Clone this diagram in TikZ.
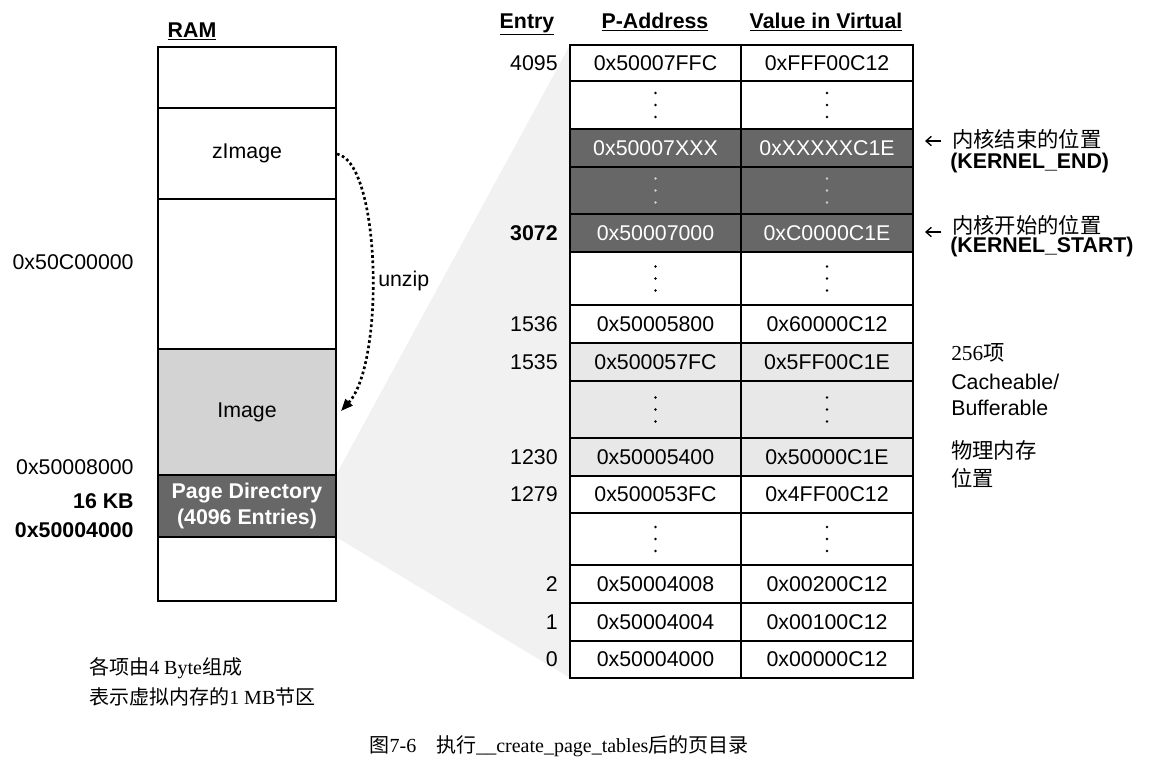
\documentclass[tikz,border=0pt]{standalone}
\usepackage{fontspec}
\setmainfont{Liberation Sans}
\newfontfamily\cjk{Noto Sans CJK SC}
\newfontfamily\tnr{Liberation Serif}
\usetikzlibrary{arrows.meta,backgrounds}
\definecolor{darkcell}{HTML}{676767}
\definecolor{lightcell}{HTML}{E8E8E8}
\definecolor{imgfill}{HTML}{D3D3D3}
\definecolor{fan}{HTML}{F1F1F1}

\begin{document}
\begin{tikzpicture}
  [x=0.75pt,y=-0.75pt,
   ram/.style={draw,line width=1pt},
   cell/.style={draw,line width=1.1pt},
   addr/.style={anchor=east},
   head/.style={anchor=base,font=\bfseries},
   note/.style={anchor=west,inner sep=0pt}]
  \fontsize{16}{19.5}\selectfont
  \useasboundingbox (0,0) rectangle (1151,776);

  % RAM
  \node[head] (ramtitle) at (192,37) {\underline{RAM}};
  \fill[imgfill] (158,349) rectangle (336,475);
  \fill[darkcell] (158,475) rectangle (336,537);
  \draw[ram] (158,47) rectangle (336,601);
  \foreach \yy in {108,199,349,475,537}
    \draw[ram] (158,\yy) -- (336,\yy);
  \node (zimg) at (247,153.5) {zImage};
  \node (img) at (247,412) {Image};
  \node[text=white,font=\bfseries,align=center] (pd) at (247,506) {Page Directory\\(4096 Entries)};
  \coordinate (zimgR) at (337,154);
  \coordinate (imgR) at (341,411);
  \coordinate (pdtop) at (336,475);
  \coordinate (pdbot) at (336,537);

  \node[addr] (a1) at (141,262) {0x50C00000};
  \node[addr] (a2) at (141,467) {0x50008000};
  \node[addr,font=\bfseries] (a3) at (141,501) {16 KB};
  \node[addr,font=\bfseries] (a4) at (141,530) {0x50004000};

  \draw[dotted,line width=2pt,-{Triangle[length=9pt,width=7pt]}]
    (zimgR) .. controls +(44,8) and +(44,-48) .. (imgR);
  \node[note] (unzip) at (378,281) {unzip};

  \node[note,font=\fontsize{15}{18}\selectfont\tnr] (n1) at (89,668) {{\cjk 各项由}4 Byte{\cjk 组成}};
  \node[note,font=\fontsize{15}{18}\selectfont\tnr] (n2) at (89,697) {{\cjk 表示虚拟内存的}1 MB{\cjk 节区}};

  % page table
  \node[head] (h1) at (527,28) {\underline{Entry}};
  \node[head] (h2) at (655,28) {\underline{P-Address}};
  \node[head] (h3) at (826,28) {\underline{Value in Virtual}};
  \coordinate (tabnw) at (570,45);
  \coordinate (tabsw) at (570,678);

  \foreach \ta/\tb/\num/\pa/\va/\fc/\tc [count=\i] in {
      45/81/4095/0x50007FFC/0xFFF00C12/white/black,
      81/129////white/black,
      129/167//0x50007XXX/0xXXXXXC1E/darkcell/white,
      167/214////darkcell/white,
      214/252/\textbf{3072}/0x50007000/0xC0000C1E/darkcell/white,
      252/305////white/black,
      305/343/1536/0x50005800/0x60000C12/white/black,
      343/381/1535/0x500057FC/0x5FF00C1E/lightcell/black,
      381/438////lightcell/black,
      438/476/1230/0x50005400/0x50000C1E/lightcell/black,
      476/513/1279/0x500053FC/0x4FF00C12/white/black,
      513/565////white/black,
      565/603/2/0x50004008/0x00200C12/white/black,
      603/641/1/0x50004004/0x00100C12/white/black,
      641/678/0/0x50004000/0x00000C12/white/black}
  {
    \draw[cell,fill=\fc] (570,\ta) rectangle (741,\tb);
    \draw[cell,fill=\fc] (741,\ta) rectangle (913,\tb);
    \node[text=\tc] (pa\i) at (655.5,{(\ta+\tb)/2}) {\pa};
    \node[text=\tc] (va\i) at (827,{(\ta+\tb)/2}) {\va};
    \node[addr] (e\i) at (565,{(\ta+\tb)/2}) {\num};
  }

  % vertical dots
  \foreach \cy/\dc in {105/black,190.5/white!80!black,278.5/black,409.5/black,539/black}
    \foreach \cx in {655.5,827}
      \foreach \k in {-12,0,12}
        \fill[\dc] (\cx,\cy+\k) circle (1.1pt);

  \begin{pgfonlayer}{background}
    \fill[fan] (pdtop) -- (tabnw) -- (tabsw) -- (pdbot) -- cycle;
  \end{pgfonlayer}

  % notes on the right
  \node[note] (kend) at (952,139) {\cjk 内核结束的位置};
  \node[note,font=\bfseries] (kendn) at (950,163) {(KERNEL\_END)};
  \node[note] (kstart) at (952,225) {\cjk 内核开始的位置};
  \node[note,font=\bfseries] (kstartn) at (950,247) {(KERNEL\_START)};
  \coordinate (kendtip) at (925,141);
  \coordinate (kstarttip) at (925,232);
  \draw[line width=1pt,-{Straight Barb[length=4pt,width=7pt]},shorten <=8pt] (kend.west |- kendtip) -- (kendtip);
  \draw[line width=1pt,-{Straight Barb[length=4pt,width=7pt]},shorten <=8pt] (kstart.west |- kstarttip) -- (kstarttip);

  \node[note,font=\tnr] (cnt) at (951,353) {256{\cjk 项}};
  \node[note] (cache) at (951,382) {Cacheable/};
  \node[note] (buff) at (951,408) {Bufferable};
  \node[note] (phys) at (951,450) {\cjk 物理内存};
  \node[note] (pos) at (951,478) {\cjk 位置};

  \node[font=\fontsize{15}{18}\selectfont\tnr] (caption) at (559,746)
    {{\cjk 图}7-6\quad{\cjk 执行}\_\_create\_page\_tables{\cjk 后的页目录}};
\end{tikzpicture}
\end{document}
